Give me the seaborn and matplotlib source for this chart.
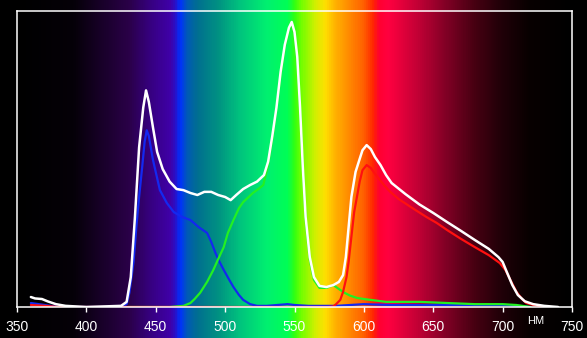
import numpy as np
import pandas as pd
import matplotlib
matplotlib.use("Agg")
import matplotlib.pyplot as plt
from matplotlib.colors import LinearSegmentedColormap
import seaborn as sns

# ---------------- data (relative intensity, peak = 1) ----------------
white_nm = [360, 363, 368, 372, 378, 385, 400, 425, 429, 432, 435, 438, 441, 443, 445, 448, 451, 455,
            460, 465, 470, 475, 480, 485, 490, 495, 500, 504, 508, 513, 518, 523, 528, 531, 534, 537,
            540, 543, 546, 548, 550, 552, 554, 556, 558, 561, 564, 568, 573, 578, 582, 585, 587, 589,
            591, 594, 597, 599, 602, 605, 608, 612, 616, 620, 630, 640, 650, 660, 670, 680, 690, 697,
            700, 703, 707, 711, 716, 722, 730, 740]
white_val = [0.035, 0.03, 0.028, 0.02, 0.01, 0.004, 0.0, 0.004, 0.018, 0.105, 0.316, 0.56, 0.70, 0.76,
             0.72, 0.63, 0.544, 0.484, 0.44, 0.414, 0.41, 0.40, 0.393, 0.404, 0.404, 0.393, 0.386, 0.375,
             0.393, 0.414, 0.428, 0.44, 0.463, 0.51, 0.60, 0.70, 0.825, 0.92, 0.98, 1.0, 0.965, 0.877,
             0.70, 0.49, 0.316, 0.175, 0.105, 0.074, 0.07, 0.077, 0.088, 0.112, 0.175, 0.28, 0.386, 0.474,
             0.52, 0.55, 0.568, 0.554, 0.526, 0.498, 0.463, 0.435, 0.396, 0.36, 0.33, 0.298, 0.267,
             0.235, 0.204, 0.175, 0.158, 0.123, 0.077, 0.042, 0.02, 0.01, 0.004, 0.0]

blue_nm = [360, 370, 380, 425, 429, 431, 434, 436, 438, 440, 442, 443.5, 445, 448, 453, 458, 463, 469,
           475, 481, 487, 490, 493, 496, 499, 503, 506, 510, 513, 518, 523, 530, 545, 550, 560, 580,
           600, 620, 650, 680, 700, 710, 720]
blue_val = [0.014, 0.007, 0.0, 0.0, 0.01, 0.05, 0.158, 0.28, 0.386, 0.48, 0.58, 0.62, 0.60, 0.516, 0.41,
            0.365, 0.333, 0.316, 0.305, 0.28, 0.26, 0.228, 0.19, 0.158, 0.13, 0.095, 0.07, 0.042, 0.025,
            0.01, 0.004, 0.004, 0.01, 0.007, 0.004, 0.004, 0.01, 0.007, 0.007, 0.007, 0.007, 0.004, 0.0]

green_nm = [430, 460, 470, 475, 478, 482, 487, 491.5, 495, 499, 502, 506, 510, 513, 517, 520, 524, 527.5,
            531, 534, 537, 540, 543, 546, 548, 550, 552, 554, 556, 558, 561, 564, 568, 573, 578, 582,
            586, 590, 595, 600, 616, 640, 660, 680, 700, 710, 720]
green_val = [0.0, 0.0, 0.004, 0.014, 0.028, 0.05, 0.088, 0.13, 0.168, 0.21, 0.26, 0.305, 0.347, 0.368,
             0.386, 0.40, 0.414, 0.428, 0.50, 0.59, 0.695, 0.814, 0.91, 0.972, 0.99, 0.954, 0.867, 0.69,
             0.48, 0.305, 0.165, 0.095, 0.067, 0.067, 0.077, 0.063, 0.05, 0.04, 0.032, 0.028, 0.018,
             0.018, 0.014, 0.01, 0.01, 0.007, 0.0]

red_nm = [360, 370, 380, 574, 578, 580, 583, 585, 587.5, 589, 591, 593, 595, 597, 599, 602, 605, 608,
          611.5, 615, 619, 625, 635, 645, 652.5, 660, 670, 680, 690, 698, 702, 706, 710, 714, 717, 722, 730]
red_val = [0.007, 0.004, 0.0, 0.0, 0.002, 0.01, 0.025, 0.053, 0.105, 0.158, 0.246, 0.333, 0.386, 0.44,
           0.48, 0.498, 0.488, 0.467, 0.446, 0.425, 0.404, 0.379, 0.347, 0.316, 0.295, 0.27, 0.239,
           0.21, 0.182, 0.154, 0.13, 0.091, 0.053, 0.028, 0.014, 0.007, 0.0]

x_ticks = [350, 400, 450, 500, 550, 600, 650, 700, 750]
unit_label = "НМ"

# ---------------- spectrum background stops (style) ----------------
spec_nm = [350, 390, 410, 430, 445, 460, 464, 467, 472, 480, 495, 510, 530, 545, 550, 555, 565, 572,
           580, 592, 600, 607, 611, 618, 640, 660, 680, 700, 720, 750]
spec_col = ["#000000", "#050008", "#180028", "#2a0048", "#36007e", "#4000a8", "#2a10c8", "#0030ff",
            "#0058b8", "#007090", "#009282", "#00c27e", "#00f070", "#00ff55", "#30ff10", "#70ff00",
            "#d0f000", "#ffe000", "#ffb000", "#ff8000", "#ff6000", "#ff2800", "#ff0030", "#ff0040",
            "#c00035", "#800025", "#480012", "#200008", "#080000", "#000000"]

sns.set_style("dark")
plt.rcParams["font.family"] = ["Liberation Sans", "DejaVu Sans"]

W, H = 587, 338
fig = plt.figure(figsize=(W / 100, H / 100), dpi=100, facecolor="black")

x_left, x_right, y_bot, y_top = 17, 572, 307, 11
nm_per_px = (750 - 350) / (x_right - x_left)

# background spectrum covering full figure height
bg = fig.add_axes([0, 0, 1, 1])
bg.set_facecolor("black")
pos = [(n - 350) / 400 for n in spec_nm]
cmap = LinearSegmentedColormap.from_list("spec", list(zip(pos, spec_col)))
grad = np.linspace(0, 1, 800)[None, :]
bg.imshow(grad, extent=[350, 750, 0, 1], aspect="auto", cmap=cmap, interpolation="bilinear")
bg.set_xlim(350 - x_left * nm_per_px, 750 + (W - x_right) * nm_per_px)
bg.set_ylim(0, 1)
bg.axis("off")

ax = fig.add_axes([x_left / W, (H - y_bot) / H, (x_right - x_left) / W, (y_bot - y_top) / H])
ax.patch.set_alpha(0)

lw = 1.6
sns.lineplot(x=blue_nm, y=blue_val, ax=ax, color="#1428f0", linewidth=lw)
sns.lineplot(x=green_nm, y=green_val, ax=ax, color="#22f022", linewidth=lw)
sns.lineplot(x=red_nm, y=red_val, ax=ax, color="#ff1010", linewidth=lw)
sns.lineplot(x=white_nm, y=white_val, ax=ax, color="white", linewidth=lw + 0.2)

ax.set_xlim(350, 750)
ax.set_ylim(0, 296 / 285)
ax.set_xticks(x_ticks)
ax.set_xticklabels([str(t) for t in x_ticks], color="white", fontsize=10)
ax.set_yticks([])
ax.grid(False)
ax.set_xlabel("")
ax.set_ylabel("")
for s in ax.spines.values():
    s.set_visible(True)
    s.set_color("white")
    s.set_linewidth(1.1)
ax.tick_params(axis="x", direction="out", length=3.8, width=1, color="white", pad=5.5, bottom=True)

fig.text(536 / W, (H - 320.5) / H, unit_label, color="white", fontsize=8, ha="center", va="center")

fig.savefig("out.png", dpi=100, facecolor="black")
